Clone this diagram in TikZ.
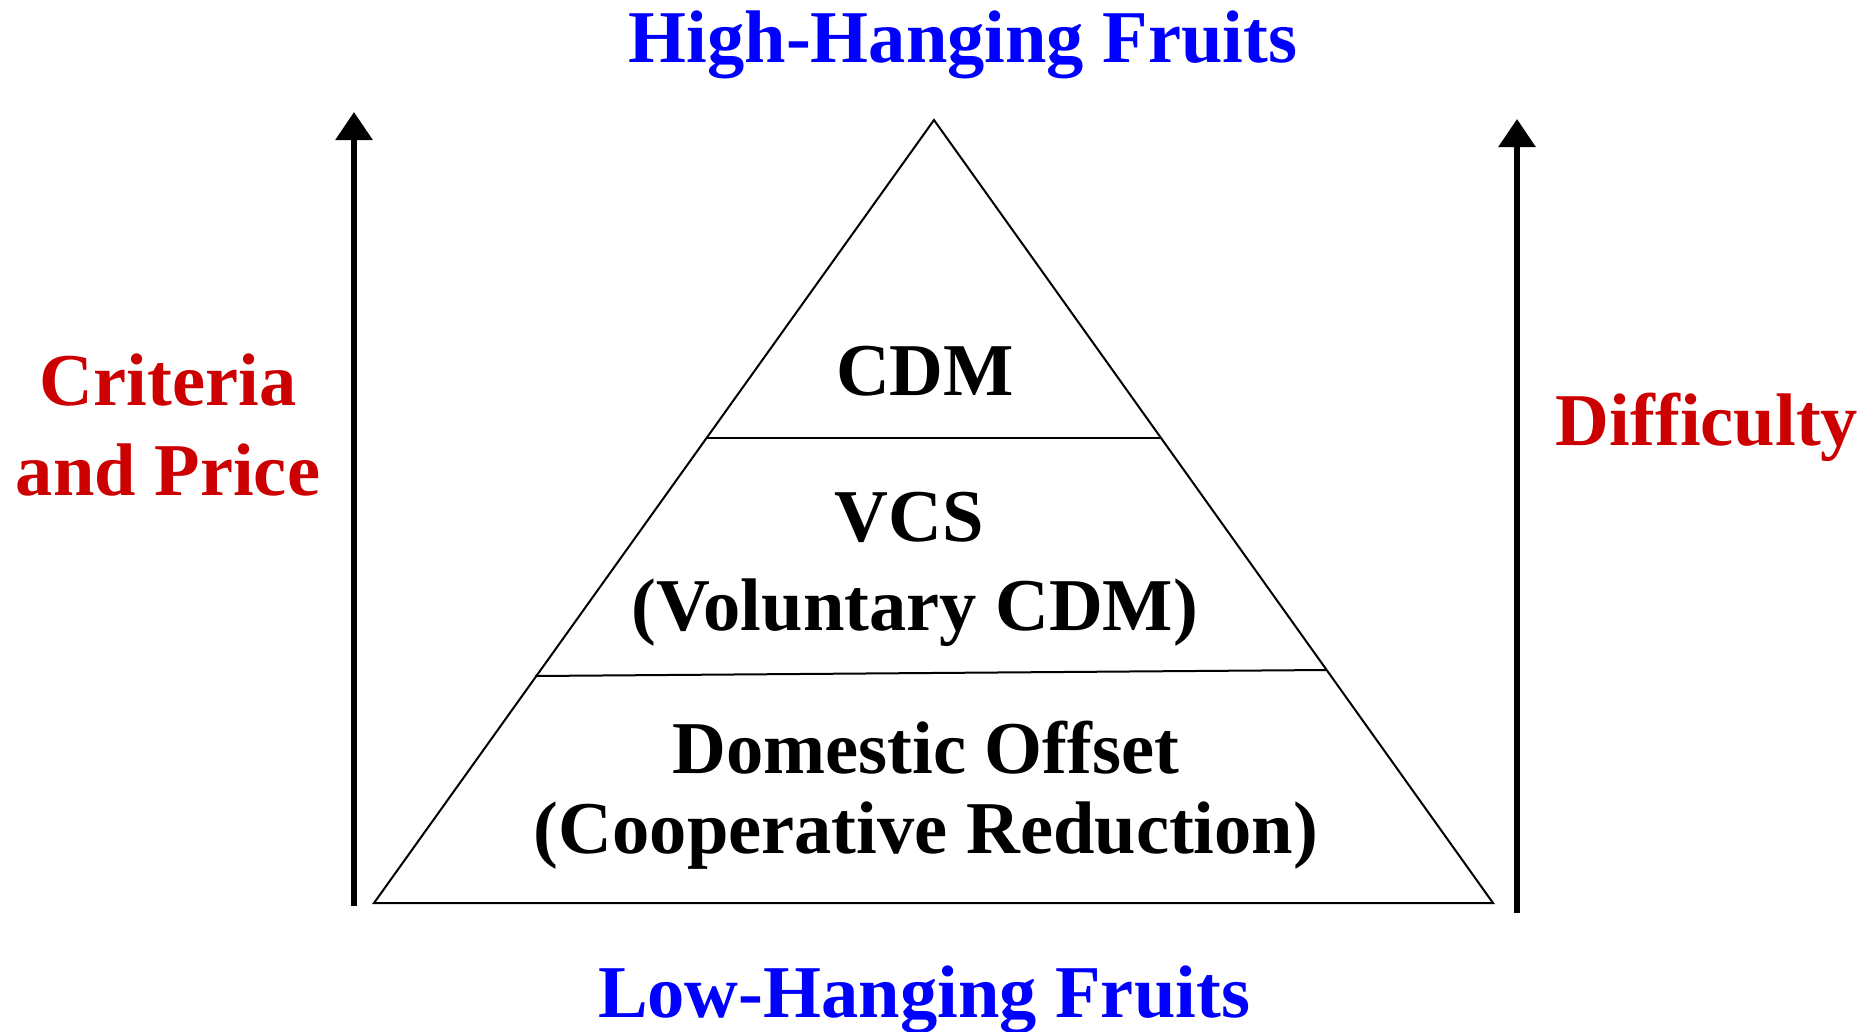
\documentclass[tikz,border=0pt]{standalone}
\usepackage{fontspec}
\setmainfont{Liberation Serif}
\usetikzlibrary{arrows.meta}
\definecolor{fruitblue}{RGB}{0,0,255}
\definecolor{axisred}{RGB}{204,0,0}

\begin{document}
\begin{tikzpicture}[x=1pt,y=-1pt,
    lbl/.style={font=\fontsize{74.5}{89}\selectfont\bfseries,inner sep=0pt,anchor=base}]
    \useasboundingbox (0,0) rectangle (1876,1031);

    % 金字塔三个顶点
    \coordinate (top) at (934,120);
    \coordinate (bl) at (374,903);
    \coordinate (br) at (1493,903);
    \draw[line width=2pt] (top) -- (bl) -- (br) -- cycle; % 外框

    % 分层线
    \coordinate (l1a) at (707,438);
    \coordinate (l1b) at (1161,438);
    \coordinate (l2a) at (535,676);
    \coordinate (l2b) at (1326,670);
    \draw[line width=2pt] (l1a) -- (l1b); % 上层
    \draw[line width=2pt] (l2a) -- (l2b); % 下层

    % 左右两根箭头
    \coordinate (la0) at (354,906);
    \coordinate (la1) at (354,112);
    \coordinate (ra0) at (1517,913);
    \coordinate (ra1) at (1517,119);
    \draw[line width=6pt,-{Triangle[width=36pt,length=28pt]}] (la0) -- (la1);
    \draw[line width=6pt,-{Triangle[width=36pt,length=28pt]}] (ra0) -- (ra1);

    % 上下标题
    \node[lbl,text=fruitblue] (high) at (963,62) {High-Hanging Fruits};
    \node[lbl,text=fruitblue] (low) at (924,1017) {Low-Hanging Fruits};

    % 两侧说明
    \node[lbl,text=axisred] (crit) at (168,405) {Criteria};
    \node[lbl,text=axisred] (price) at (168,495) {and Price};
    \node[lbl,text=axisred] (diff) at (1707,445) {Difficulty};

    % 各层文字
    \node[lbl] (cdm) at (925,395) {CDM};
    \node[lbl] (vcs) at (909,541) {VCS};
    \node[lbl] (vol) at (915,630) {(Voluntary CDM)};
    \node[lbl] (dom) at (926,773) {Domestic Offset};
    \node[lbl] (coop) at (926,853) {(Cooperative Reduction)};

\end{tikzpicture}
\end{document}
